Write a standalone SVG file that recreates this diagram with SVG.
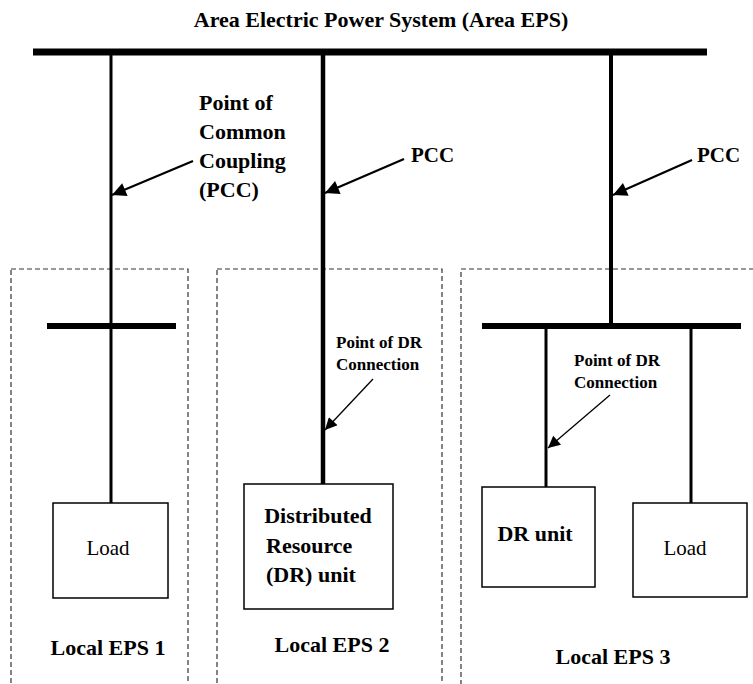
<svg xmlns="http://www.w3.org/2000/svg" width="753" height="684" viewBox="0 0 753 684">
<style>
text{font-family:'Liberation Serif','Times New Roman',serif;fill:#000}
.b{font-weight:bold}
.bus{stroke:#000;stroke-width:7;fill:none}
.lbus{stroke:#000;stroke-width:6;fill:none}
.w{stroke:#000;fill:none}
.box{fill:#fff;stroke:#000;stroke-width:1.5}
.zone{fill:none;stroke:#333;stroke-width:1.2;stroke-dasharray:5,3}
.ptr{stroke:#000;stroke-width:2.2;fill:none;marker-end:url(#ah)}
.ptr2{stroke:#000;stroke-width:1.3;fill:none;marker-end:url(#ah2)}
</style>
<defs>
<marker id="ah" viewBox="0 0 10 10" refX="10" refY="5" markerUnits="userSpaceOnUse" markerWidth="18" markerHeight="14" orient="auto"><path d="M0,0 L10,5 L0,10 z" fill="#000"/></marker>
<marker id="ah2" viewBox="0 0 10 10" refX="10" refY="5" markerUnits="userSpaceOnUse" markerWidth="16" markerHeight="12" orient="auto"><path d="M0,0 L10,5 L0,10 z" fill="#000"/></marker>
</defs>
<rect width="753" height="684" fill="#fff"/>
<g id="zones">
<rect id="zone1" class="zone" x="11" y="269" width="177" height="430"/>
<rect id="zone2" class="zone" x="217" y="269" width="225" height="430"/>
<rect id="zone3" class="zone" x="461" y="269" width="310" height="430"/>
</g>
<g id="title"><text class="b" x="381" y="27" font-size="22" text-anchor="middle">Area Electric Power System (Area EPS)</text></g>
<g id="connectors">
<line class="w" x1="111" y1="52" x2="111" y2="503" stroke-width="3"/>
<line class="w" x1="323" y1="52" x2="323" y2="484" stroke-width="4.5"/>
<line class="w" x1="611" y1="52" x2="611" y2="326" stroke-width="4"/>
<line class="w" x1="546" y1="326" x2="546" y2="487" stroke-width="3"/>
<line class="w" x1="691" y1="326" x2="691" y2="503" stroke-width="3"/>
</g>
<g id="area-bus"><line class="bus" x1="33" y1="52" x2="707" y2="52"/></g>
<g id="bus1"><line class="lbus" x1="47" y1="326" x2="176" y2="326"/></g>
<g id="bus3"><line class="lbus" x1="482" y1="326" x2="741" y2="326"/></g>
<g id="pointers">
<line class="ptr" x1="193" y1="161" x2="112" y2="195"/>
<line class="ptr" x1="404" y1="159" x2="325" y2="193"/>
<line class="ptr" x1="692" y1="160" x2="613" y2="195"/>
<line class="ptr2" x1="373" y1="379" x2="325" y2="430"/>
<line class="ptr2" x1="610" y1="395" x2="548" y2="448"/>
</g>
<g id="pcc1-label">
<text class="b" font-size="22" x="199" y="110">Point of</text>
<text class="b" font-size="22" x="199" y="139">Common</text>
<text class="b" font-size="22" x="199" y="168">Coupling</text>
<text class="b" font-size="22" x="199" y="197">(PCC)</text>
</g>
<g id="pcc2-label"><text class="b" font-size="21" x="411" y="162">PCC</text></g>
<g id="pcc3-label"><text class="b" font-size="21" x="697" y="162">PCC</text></g>
<g id="poc2-label">
<text class="b" font-size="17" x="336" y="348">Point of DR</text>
<text class="b" font-size="17" x="336" y="370">Connection</text>
</g>
<g id="poc3-label">
<text class="b" font-size="17" x="574" y="366">Point of DR</text>
<text class="b" font-size="17" x="574" y="388">Connection</text>
</g>
<g id="load1">
<rect class="box" x="53" y="503" width="115" height="95"/>
<text font-size="21" x="108" y="555" text-anchor="middle">Load</text>
</g>
<g id="dr2">
<rect class="box" x="244" y="484" width="149" height="125"/>
<text class="b" font-size="22" x="318" y="523" text-anchor="middle">Distributed</text>
<text class="b" font-size="22" x="266" y="553">Resource</text>
<text class="b" font-size="22" x="266" y="582">(DR) unit</text>
</g>
<g id="dr3">
<rect class="box" x="482" y="487" width="113" height="100"/>
<text class="b" font-size="22" x="535" y="541" text-anchor="middle">DR unit</text>
</g>
<g id="load3">
<rect class="box" x="633" y="503" width="114" height="94"/>
<text font-size="21" x="685" y="555" text-anchor="middle">Load</text>
</g>
<g id="zone-labels">
<text class="b" font-size="22" x="108" y="655" text-anchor="middle">Local EPS 1</text>
<text class="b" font-size="22" x="332" y="652" text-anchor="middle">Local EPS 2</text>
<text class="b" font-size="22" x="613" y="664" text-anchor="middle">Local EPS 3</text>
</g>
</svg>
